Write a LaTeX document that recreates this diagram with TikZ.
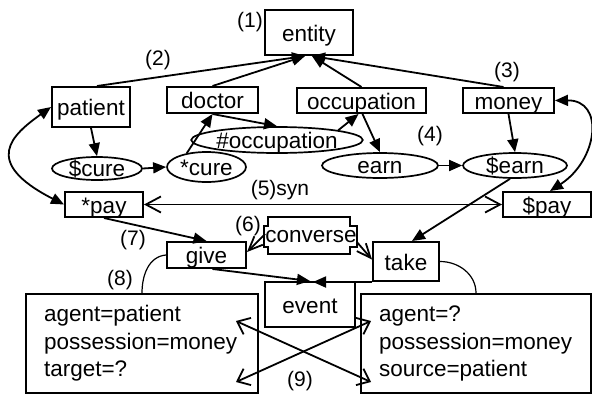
\documentclass[tikz,border=0pt]{standalone}
\usepackage{fontspec}
\setmainfont{Liberation Sans}
\usetikzlibrary{arrows.meta, shapes.geometric, calc}

\begin{document}
\begin{tikzpicture}[x=1pt, y=-1pt,
  font=\fontsize{22.5pt}{27.5pt}\selectfont,
  box/.style={draw, line width=2pt, inner sep=0pt, text height=17pt, text depth=0pt},
  oval/.style={ellipse, draw, line width=1.7pt, inner sep=0pt, text height=16pt, text depth=0pt},
  frame/.style={draw, line width=1.9pt, align=left, inner xsep=18pt, inner ysep=0pt, minimum height=99pt},
  num/.style={inner sep=0pt, font=\fontsize{21pt}{25pt}\selectfont},
  arr/.style={line width=1.8pt, -{Triangle[length=13pt, width=11pt]}},
  darr/.style={line width=1.8pt, {Triangle[length=13pt, width=11pt]}-{Triangle[length=13pt, width=11pt]}},
  barb/.style={line width=1.8pt, -{Straight Barb[length=14pt, width=12pt]}},
  dbarb/.style={line width=1.8pt, {Straight Barb[length=15pt, width=16pt]}-{Straight Barb[length=15pt, width=16pt]}},
  xbarb/.style={line width=1.8pt, {Straight Barb[length=11pt, width=18pt]}-{Straight Barb[length=11pt, width=18pt]}},
]
\useasboundingbox (0,0) rectangle (592,394);

% upper hierarchy
\node[box, minimum width=88pt, minimum height=45pt] (entity) at (309,32.5) {entity};
\node[box, minimum width=78pt, minimum height=40pt] (patient) at (91,107) {patient};
\node[box, minimum width=91pt, minimum height=26pt] (doctor) at (212.5,100) {doctor};
\node[box, minimum width=129pt, minimum height=25pt] (occupation) at (361.5,100.5) {occupation};
\node[box, minimum width=91pt, minimum height=25pt] (money) at (508.5,100.5) {money};

% concepts
\node[oval, minimum width=168pt, minimum height=26pt] (occ2) at (277,140) {\#occupation};
\node[oval, minimum width=90pt, minimum height=23pt] (cure1) at (97,168.5) {\$cure};
\node[oval, minimum width=79pt, minimum height=30pt] (cure2) at (206.5,167) {*cure};
\node[oval, minimum width=116pt, minimum height=25pt] (earn1) at (380,165.5) {earn};
\node[oval, minimum width=104pt, minimum height=25pt] (earn2) at (515,165.5) {\$earn};

% events
\node[box, minimum width=78pt, minimum height=25pt] (pay1) at (104,204.5) {*pay};
\node[box, minimum width=88pt, minimum height=25pt] (pay2) at (547,204.5) {\$pay};
\node[box, minimum width=79pt, minimum height=26pt] (give) at (206.5,255) {give};
\node[box, minimum width=66pt, minimum height=39pt] (take) at (406,261.5) {take};
\node[box, minimum width=90pt, minimum height=45pt] (event) at (310,304.5) {event};
\draw[line width=1.7pt] (268,217) -- (350,217) -- (350,226) -- (357,226) -- (357,247)
  -- (350,247) -- (350,254) -- (268,254) -- (268,247) -- (264,247) -- (264,226)
  -- (268,226) -- cycle;
\node[inner sep=0pt, text height=16pt, text depth=0pt] (conv) at (311,234) {converse};

% frames
\node[frame, text width=196pt] (lframe) at (142,343.5) {agent=patient\\possession=money\\target=?};
\node[frame, text width=194pt] (rframe) at (476,343.5) {agent=?\\possession=money\\source=patient};

% labels
\node[num] (n1) at (250,22) {(1)};
\node[num] (n2) at (158,60) {(2)};
\node[num] (n3) at (507,72) {(3)};
\node[num] (n4) at (430,136) {(4)};
\node[num] (n5) at (280,190) {(5)syn};
\node[num] (n6) at (248,226) {(6)};
\node[num] (n7) at (133,240) {(7)};
\node[num] (n8) at (120,280) {(8)};
\node[num] (n9) at (300,381) {(9)};

% isa links
\draw[arr] ([xshift=6pt]patient.north) -- ([xshift=-4pt]entity.south);
\draw[arr] (doctor.north) -- ([xshift=-4pt]entity.south);
\draw[arr] (occupation.north) -- ([xshift=3pt]entity.south);
\draw[arr] ([xshift=-5pt]money.north) -- ([xshift=3pt]entity.south);

\draw[arr] (patient.south) -- (cure1.north);
\draw[arr] (cure1.east) -- (cure2.west);
\draw[arr] (cure2.145) -- (doctor.south);
\draw[arr] (doctor.south) -- (occ2.north);
\draw[arr] (occ2.north east) -- ([xshift=-3pt]occupation.south);
\draw[arr] ([xshift=1pt]occupation.south) -- (earn1.north);
\draw[arr] (earn1.east) -- (earn2.west);
\draw[arr] (money.south) -- (earn2.north);
\draw[arr] ([xshift=-5pt]earn2.south) -- ([xshift=6pt]take.north);

\draw[darr] (patient.west) .. controls (12.6,134.6) and (-19.6,161.7) .. (pay1.west);
\draw[darr] (money.east) .. controls (605,100) and (598,160) .. ([xshift=3pt]pay2.north);
\draw[dbarb] (pay1.east) -- (pay2.west);

\draw[arr] (pay1.south) -- (give.north);
\draw[barb] (conv.west) -- ([yshift=3pt]give.east);
\draw[barb] ([yshift=-8pt]conv.east) -- ([yshift=2pt]take.west);
\draw[arr] ([xshift=6pt]give.south) -- (event.north);
\draw[arr] (take.south west) -- ($(event.north |- take.south west)+(3,0)$);

% role frames
\draw[line width=1.2pt] (give.west) to[out=185, in=90] (lframe.north);
\draw[line width=1.2pt] (take.east) to[out=0, in=90] (rframe.north);
\coordinate (x1) at (236,321);
\coordinate (x2) at (371,382);
\coordinate (x3) at (236,382);
\coordinate (x4) at (371,321);
\draw[xbarb] (x1) -- (x2);
\draw[xbarb] (x3) -- (x4);
\end{tikzpicture}
\end{document}
